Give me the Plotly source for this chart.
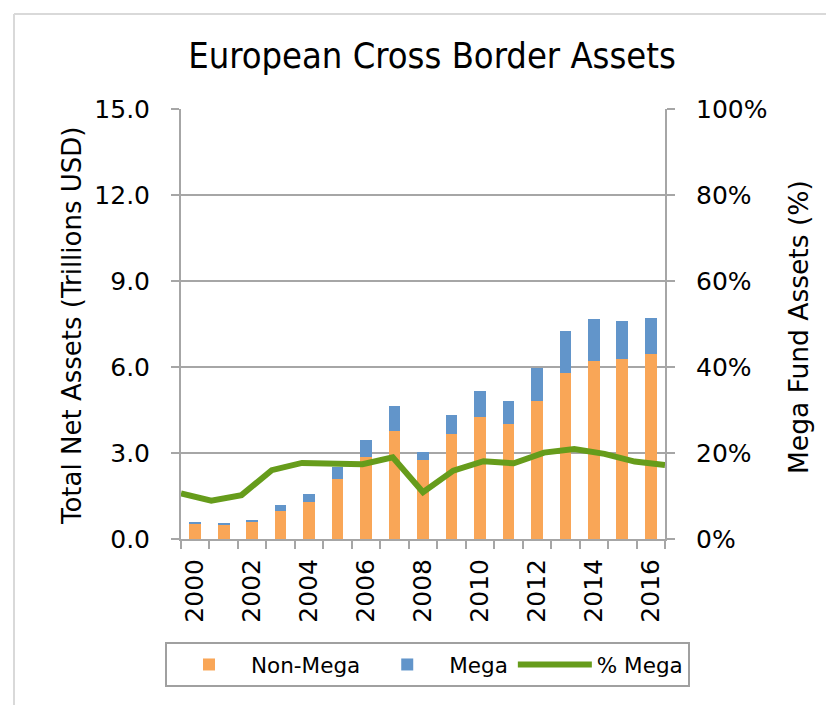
import plotly.graph_objects as go

years = list(range(2000, 2017))
non_mega = [0.53, 0.52, 0.62, 0.99, 1.29, 2.08, 2.87, 3.78, 2.76, 3.66, 4.24, 4.00, 4.80, 5.78, 6.20, 6.28, 6.44]
mega = [0.07, 0.04, 0.04, 0.18, 0.28, 0.44, 0.58, 0.86, 0.29, 0.68, 0.92, 0.83, 1.18, 1.47, 1.47, 1.31, 1.27]
pct_mega = [10.6, 8.9, 10.2, 16.0, 17.7, 17.7, 17.4, 19.0, 10.9, 15.9, 18.1, 17.6, 20.1, 20.9, 19.8, 18.0, 17.2]
left_ticks = [0, 3, 6, 9, 12, 15]
right_ticks = [0, 20, 40, 60, 80, 100]
right_labels = ["0%", "20%", "40%", "60%", "80%", "100%"]
label_years = years[::2]

FONT = "DejaVu Sans"
GRID = "#a6a6a6"
ORANGE = "#F9A657"
BLUE = "#6295CA"
GREEN = "#669C1B"

fig = go.Figure()
fig.add_trace(go.Bar(x=years, y=non_mega, name="Non-Mega", marker=dict(color=ORANGE, line=dict(width=0)), width=0.41))
fig.add_trace(go.Bar(x=years, y=mega, name="Mega", marker=dict(color=BLUE, line=dict(width=0)), width=0.41))
fig.add_trace(go.Scatter(x=years, y=pct_mega, name="% Mega", mode="lines",
                         line=dict(color=GREEN, width=6), xaxis="x2", yaxis="y2"))

OFF = 8  # page body offset
W, H = 834, 705
L = 181 - OFF
R = W - (665 - OFF)
T = 109 - OFF
B = H - (539 - OFF)
PW, PH = 665 - 181, 539 - 109

def px_x(p):  # screen px -> paper
    return (p - 181) / PW

def px_y(p):
    return (539 - p) / PH

fig.update_layout(
    width=W, height=H,
    margin=dict(l=L, r=R, t=T, b=B, autoexpand=False),
    paper_bgcolor="white", plot_bgcolor="white",
    barmode="stack", bargap=0,
    font=dict(family=FONT, size=25, color="black"),
    title=dict(text="European Cross Border Assets", x=(432 - OFF) / W, xanchor="center",
               y=1 - (55 - OFF) / H, yanchor="middle",
               font=dict(family="DejaVu Sans Condensed, Liberation Sans Narrow, DejaVu Sans", size=36, color="black")),
    xaxis=dict(type="linear", range=[1999.5, 2016.5], tickvals=label_years, ticktext=[str(y) for y in label_years],
               tickangle=-90, ticks="", showgrid=False, showline=True, linecolor=GRID, linewidth=2,
               tickfont=dict(size=25), ticklabelstandoff=8, zeroline=False,
               minor=dict(tickvals=[y - 0.5 for y in years] + [2016.5], ticks="outside", ticklen=8,
                          tickcolor=GRID, tickwidth=2, showgrid=False)),
    xaxis2=dict(type="linear", range=[2000, 2016], overlaying="x", anchor="y", visible=False),
    yaxis=dict(range=[0, 15], tickvals=left_ticks, tickformat=".1f", ticks="outside", ticklen=8,
               tickcolor=GRID, tickwidth=2, showgrid=True, gridcolor=GRID, gridwidth=2,
               showline=True, linecolor=GRID, linewidth=2, zeroline=False,
               tickfont=dict(size=25), ticklabelstandoff=16),
    yaxis2=dict(range=[0, 100], tickvals=right_ticks, ticktext=right_labels, overlaying="y", side="right",
                anchor="x", ticks="outside", ticklen=8, tickcolor=GRID, tickwidth=2, showgrid=False,
                showline=True, linecolor=GRID, linewidth=2, zeroline=False,
                tickfont=dict(size=25), ticklabelstandoff=16),
    legend=dict(orientation="h", x=px_x(165), xanchor="left", y=px_y(642), yanchor="top",
                bordercolor="#a0a0a0", borderwidth=2, font=dict(size=21.5), traceorder="normal",
                bgcolor="white", itemwidth=74),
    showlegend=True,
)

fig.add_annotation(text="Total Net Assets (Trillions USD)", textangle=-90, x=px_x(72), y=px_y(326),
                   xref="paper", yref="paper", showarrow=False, font=dict(size=26),
                   xanchor="center", yanchor="middle")
fig.add_annotation(text="Mega Fund Assets (%)", textangle=-90, x=px_x(798), y=px_y(327),
                   xref="paper", yref="paper", showarrow=False, font=dict(size=26.5),
                   xanchor="center", yanchor="middle")

# outer chart border (top & left visible)
fig.add_shape(type="line", xref="paper", yref="paper", x0=px_x(14), x1=px_x(14), y0=px_y(720), y1=px_y(14),
              line=dict(color="#d9d9d9", width=2))
fig.add_shape(type="line", xref="paper", yref="paper", x0=px_x(14), x1=px_x(850), y0=px_y(14), y1=px_y(14),
              line=dict(color="#d9d9d9", width=2))

fig.write_html("out.html")
